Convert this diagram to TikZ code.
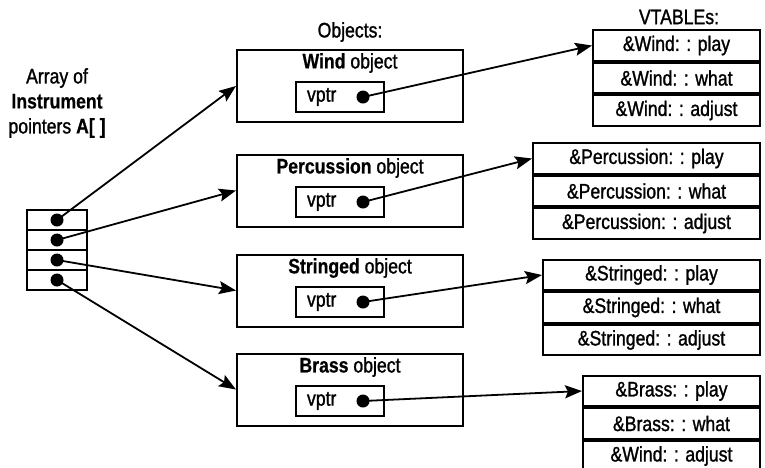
\documentclass[tikz,border=0pt]{standalone}
\usepackage{fontspec}
\setmainfont{Liberation Sans}[FakeStretch=0.84,UprightFeatures={FakeBold=1.2},BoldFeatures={FakeBold=0.6}]
\usetikzlibrary{arrows.meta,positioning}
\begin{document}
\begin{tikzpicture}[x=1pt,y=-1pt,line width=2pt,
  font=\fontsize{21}{25}\selectfont,
  cell/.style={draw,rectangle,minimum width=60pt,minimum height=20pt,inner sep=0pt},
  dotn/.style={circle,fill=black,inner sep=0pt,minimum size=13pt},
  objbox/.style={draw,rectangle,minimum width=226pt,minimum height=72pt,inner sep=0pt},
  vbox/.style={draw,rectangle,minimum width=88pt,minimum height=30pt,inner sep=0pt},
  row/.style={draw,rectangle,minimum height=30.5pt,inner sep=0pt},
  arr/.style={-{Stealth[length=17pt,width=13pt,inset=3pt]},line width=1.8pt},
  lbl/.style={inner sep=0pt}]
\useasboundingbox (0,0) rectangle (765,467);

% array
\node[lbl,align=center] (arrlbl) at (57,103) {Array of\\\textbf{Instrument}\\pointers \textbf{A[ ]}};
\node[cell] (c1) at (57,220) {};
\node[cell] (c2) at (57,240) {};
\node[cell] (c3) at (57,260) {};
\node[cell] (c4) at (57,280) {};

% objects
\node[lbl] (objlbl) at (350,32) {Objects:};
\node[objbox] (wind) at (350,86) {};
\node[objbox] (perc) at (350,190.5) {};
\node[objbox] (str) at (350,290.5) {};
\node[objbox] (brass) at (350,389.5) {};

\node[lbl] (windt) at (350,63) {\textbf{Wind} object};
\node[lbl] (perct) at (350,168) {\textbf{Percussion} object};
\node[lbl] (strt) at (350,268) {\textbf{Stringed} object};
\node[lbl] (brasst) at (350,367) {\textbf{Brass} object};

\node[vbox] (wv) at (340,97) {};
\node[vbox] (pv) at (340,202) {};
\node[vbox] (sv) at (340,302) {};
\node[vbox] (bv) at (340,401) {};
\foreach \n in {wv,pv,sv,bv}{
  \node[lbl,anchor=west] (\n t) at ([xshift=11pt]\n.west) {vptr};
}

% vtables
\node[lbl] (vtl) at (679,17) {VTABLEs:};
\node[row,minimum width=167pt] (w1) at (676.5,45.5) {\&Wind: : play};
\node[row,minimum width=167pt,below=0pt of w1] (w2) {\&Wind: : what};
\node[row,minimum width=167pt,below=0pt of w2] (w3) {\&Wind: : adjust};

\node[row,minimum width=227pt] (p1) at (646.5,158.5) {\&Percussion: : play};
\node[row,minimum width=227pt,below=0pt of p1] (p2) {\&Percussion: : what};
\node[row,minimum width=227pt,below=0pt of p2] (p3) {\&Percussion: : adjust};

\node[row,minimum width=217pt] (s1) at (651.5,275) {\&Stringed: : play};
\node[row,minimum width=217pt,below=0pt of s1] (s2) {\&Stringed: : what};
\node[row,minimum width=217pt,below=0pt of s2] (s3) {\&Stringed: : adjust};

\node[row,minimum width=177pt] (b1) at (671.5,391) {\&Brass: : play};
\node[row,minimum width=177pt,below=0pt of b1] (b2) {\&Brass: : what};
\node[row,minimum width=177pt,below=0pt of b2] (b3) {\&Wind: : adjust};

% dots
\node[dotn] (d1) at (c1.center) {};
\node[dotn] (d2) at (c2.center) {};
\node[dotn] (d3) at (c3.center) {};
\node[dotn] (d4) at (c4.center) {};
\node[dotn] (wd) at (363,97) {};
\node[dotn] (pd) at (363,202) {};
\node[dotn] (sd) at (363,302) {};
\node[dotn] (bd) at (363,401) {};

% arrows
\draw[arr] (d1.center) -- (wind.west);
\draw[arr] (d2.center) -- (perc.west);
\draw[arr] (d3.center) -- (str.west);
\draw[arr] (d4.center) -- (brass.west);
\draw[arr] (wd.center) -- (w1.west);
\draw[arr] (pd.center) -- (p1.west);
\draw[arr] (sd.center) -- (s1.west);
\draw[arr] (bd.center) -- (b1.west);
\end{tikzpicture}
\end{document}
